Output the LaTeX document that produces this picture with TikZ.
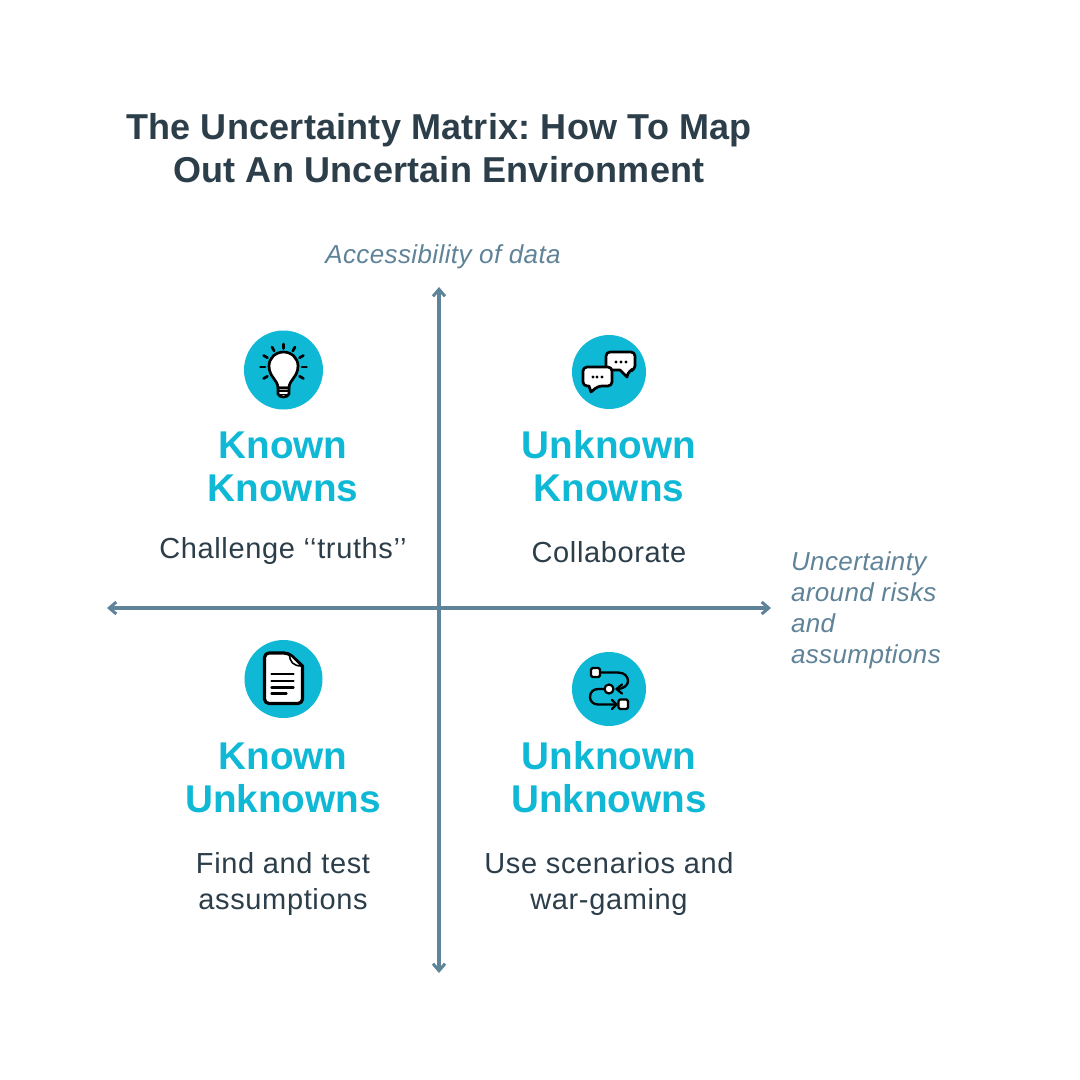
\documentclass[tikz,border=0pt]{standalone}
\usepackage{fontspec}
\setmainfont{Liberation Sans}
\usetikzlibrary{arrows.meta}
\definecolor{ttl}{HTML}{2C3E4A}
\definecolor{axisc}{HTML}{5F8398}
\definecolor{teal}{HTML}{0FB9D6}
\newfontfamily\spaced[LetterSpace=2.2]{Liberation Sans}
\newfontfamily\spacedax[LetterSpace=1.5]{Liberation Sans}
\newfontfamily\titlefam[LetterSpace=0.6]{Liberation Sans}
\tikzset{
 every node/.style={align=center,inner sep=0pt,outer sep=0pt},
 title/.style={font=\fontsize{36}{43}\titlefam\bfseries\selectfont,text=ttl},
 head/.style={font=\fontsize{38.7}{43}\bfseries\selectfont,text=teal},
 sub/.style={font=\fontsize{29}{35.5}\spaced\selectfont,text=ttl},
 axlab/.style={font=\fontsize{26}{31}\spacedax\itshape\selectfont,text=axisc},
 axisl/.style={draw=axisc,line width=3.2pt,{Straight Barb[length=7pt,width=12pt,line width=3pt]}-{Straight Barb[length=7pt,width=12pt,line width=3pt]}},
 disc/.style={circle,fill=teal,draw=none},
 ink/.style={draw=black,line width=2.7pt,line cap=round,line join=round},
 paper/.style={ink,fill=white},
}
\begin{document}
\frenchspacing
\begin{tikzpicture}[x=1pt,y=-1pt]
\useasboundingbox (0,0) rectangle (1080,1080);
\fill[white] (0,0) rectangle (1080,1080);
\node[title] (t) at (439,148) {The Uncertainty Matrix: How To Map\\Out An Uncertain Environment};
\coordinate (top) at (439,287);
\coordinate (bot) at (439,973);
\coordinate (lft) at (107,608);
\coordinate (rgt) at (771,608);
\draw[axisl] (bot) -- (top);
\draw[axisl] (lft) -- (rgt);
\node[axlab] (ay) at (443,257) {Accessibility of data};
\node[axlab,align=left,anchor=north west] (ax) at (791,551.5) {Uncertainty\\around risks\\and\\assumptions};
\node[head] (h1) at (283,467) {Known\\Knowns};
\node[head] (h2) at (609,466) {Unknown\\Knowns};
\node[head] (h3) at (283,778) {Known\\Unknowns};
\node[head] (h4) at (609,777) {Unknown\\Unknowns};
\node[sub] (s1) at (283,550.5) {Challenge ‘‘truths’’};
\node[sub] (s2) at (609,552) {Collaborate};
\node[sub] (s3) at (283,884) {Find and test\\assumptions};
\node[sub] (s4) at (609,884) {Use scenarios and\\war-gaming};
% icon 1: bulb
\node[disc,minimum size=79pt] (c1) at (283.5,370) {};
\begin{scope}[shift={(c1.center)}]
 \draw[paper] (-5.5,18) .. controls (-5.5,10) and (-14.5,7) .. (-14.5,-4) .. controls (-14.5,-12) and (-8,-18) .. (0,-18) .. controls (8,-18) and (14.5,-12) .. (14.5,-4) .. controls (14.5,7) and (5.5,10) .. (5.5,18) -- cycle;
 \draw[paper] (-5.5,18) -- (-5.5,24) .. controls (-4,28) and (4,28) .. (5.5,24) -- (5.5,18) -- cycle;
 \draw[draw=black,line width=1.8pt] (-5.5,21) -- (5.5,21) (-5.5,24.5) -- (5.5,24.5);
 \foreach \a in {-150,-120,-90,-60,-30,0,30,150,180} {
  \draw[ink,shift={(0,-3)}] (\a:18.5) -- (\a:23);
 }
\end{scope}
% icon 2: speech bubbles
\node[disc,minimum size=74pt] (c2) at (609,372) {};
\begin{scope}[shift={(c2.center)}]
 \draw[paper,rounded corners=4pt] (-3,-20) -- (26,-20) -- (26,-2) -- (20,-2) [sharp corners] -- (18,5) -- (11,-2) [rounded corners=4pt] -- (-3,-2) -- cycle;
 \draw[paper,rounded corners=4pt] (-26,-5) -- (3,-5) -- (3,14) -- (-11,14) [sharp corners] -- (-18,20) -- (-20,14) [rounded corners=4pt] -- (-26,14) -- cycle;
 \foreach \x in {-16,-12,-7} \fill (\x,5) circle (1.6);
 \foreach \x in {7,12,17} \fill (\x,-10) circle (1.6);
\end{scope}
% icon 3: document
\node[disc,minimum size=78pt] (c3) at (283.5,679) {};
\begin{scope}[shift={(c3.center)}]
 \draw[paper,line width=3.2pt,rounded corners=4.5pt] (-19,-26) -- (5,-26) [sharp corners] -- (19,-13) [rounded corners=4.5pt] -- (19,24.5) -- (-19,24.5) -- cycle;
 \draw[ink,line width=1.6pt,fill=white] (6,-25) .. controls (6,-17) and (10,-13) .. (18,-13) -- cycle;
 \foreach \y/\l in {-5/10,2/10,8.5/10,14.5/3} \draw[ink,line width=2.4pt] (-12,\y) -- (\l,\y);
\end{scope}
% icon 4: flow
\node[disc,minimum size=74pt] (c4) at (609,689) {};
\begin{scope}[shift={(c4.center)}]
 \draw[ink,line width=2.3pt] (-9,-16.5) -- (9,-16.5) .. controls (16,-16.5) and (19,-12) .. (19,-8) .. controls (19,-4) and (15,0) .. (8,0);
 \draw[ink,line width=2.3pt] (13,-4.5) -- (7.5,0) -- (13,4.5);
 \draw[ink,line width=2.3pt] (-4,0) -- (-11,0) .. controls (-16,0) and (-19,3.5) .. (-19,8) .. controls (-19,12) and (-16,15.5) .. (-11,15.5) -- (7,15.5);
 \draw[ink,line width=2.3pt] (3,11) -- (7.5,15.5) -- (3,20);
 \draw[paper,line width=2.2pt,rounded corners=1.5pt] (-18,-21) rectangle (-9,-12);
 \draw[paper,line width=2.2pt] (0,0) circle (4.5);
 \draw[paper,line width=2.2pt,rounded corners=1.5pt] (9.5,10.5) rectangle (19,20);
\end{scope}
\end{tikzpicture}
\end{document}
